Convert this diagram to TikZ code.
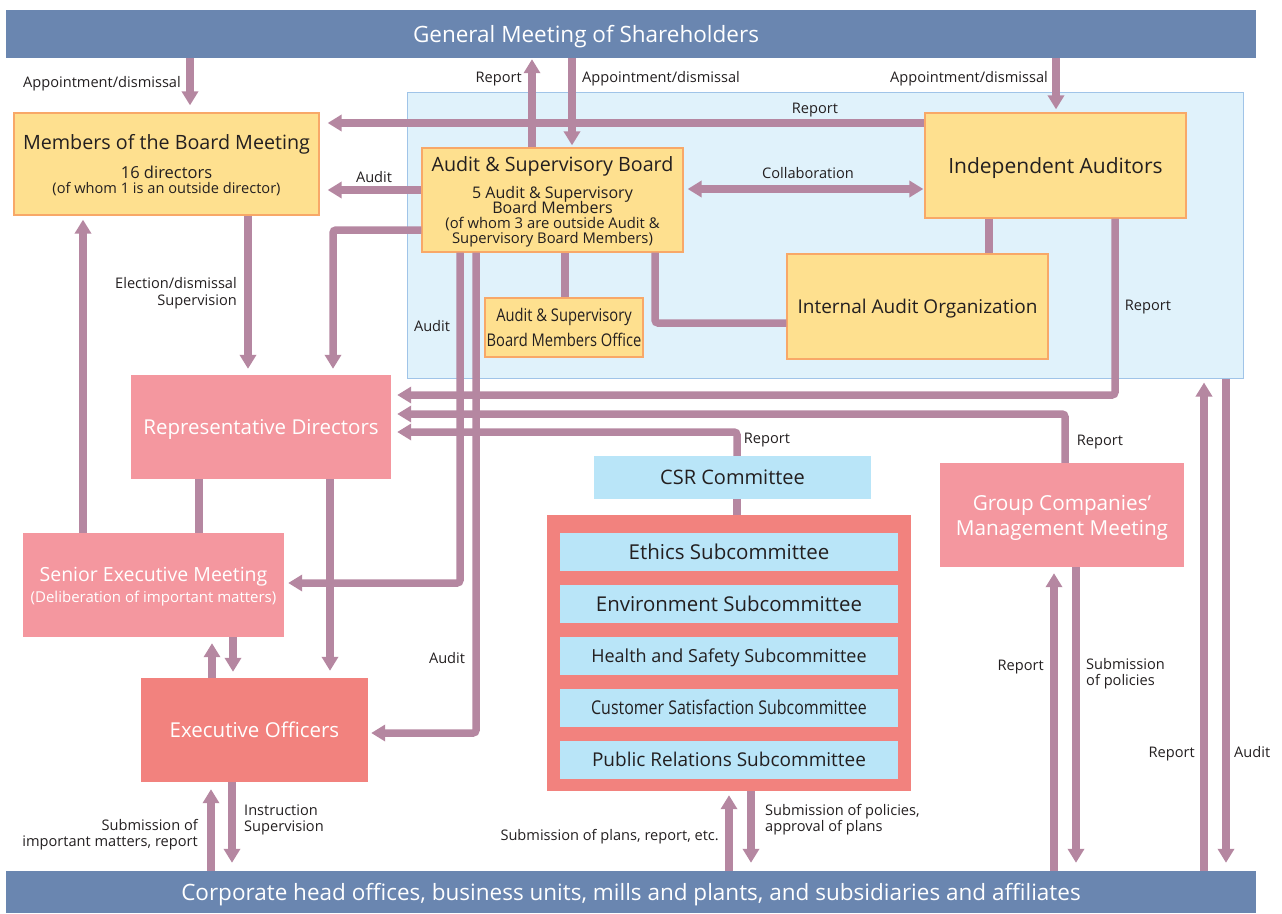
\documentclass[tikz,border=0pt]{standalone}
\usepackage{fontspec}
\setmainfont{Open Sans}
\newfontfamily\condfont[FakeStretch=0.84]{Open Sans}
\usetikzlibrary{arrows.meta,positioning}
\definecolor{barblue}{RGB}{106,134,176}
\definecolor{mauve}{RGB}{181,135,161}
\definecolor{boxyellow}{RGB}{254,224,143}
\definecolor{boxorange}{RGB}{248,168,104}
\definecolor{auditblue}{RGB}{224,242,251}
\definecolor{auditedge}{RGB}{160,196,232}
\definecolor{boxpink}{RGB}{244,151,159}
\definecolor{boxsalmon}{RGB}{242,130,126}
\definecolor{csrblue}{RGB}{185,229,248}
\definecolor{textdark}{RGB}{35,31,32}
\newcommand{\fsz}[2]{\fontsize{#1}{#2}\selectfont\lineskiplimit=-50pt\relax}

\begin{document}
\begin{tikzpicture}[x=1pt, y=-1pt,
        % Node styles
        bar/.style={fill=barblue, inner sep=0pt, minimum width=1250pt},
        bartext/.style={text=white, font=\fsz{22.5}{26}, inner sep=0pt, text depth=0pt},
        yellowbox/.style={draw=boxorange, fill=boxyellow, line width=1.3pt, inner sep=0pt, align=center, text=textdark, text depth=0pt, font=\fsz{19.5}{23}},
        pinkbox/.style={fill=boxpink, inner sep=0pt, align=center, text=white, text depth=0pt, font=\fsz{20.5}{25}},
        redbox/.style={fill=boxsalmon, inner sep=0pt, align=center, text=white, text depth=0pt, font=\fsz{20.5}{25}},
        subbox/.style={fill=csrblue, inner sep=0pt, minimum width=338pt, minimum height=38pt, text=textdark, text depth=0pt, font=\fsz{19}{22}},
        lbl/.style={inner sep=0pt, text=textdark, text depth=0pt, font=\fsz{14.6}{15.5}},
        % Connector styles
        line/.style={draw=mauve, line width=7.5pt},
        arr/.style={line, -{Triangle[width=16pt,length=14pt]}, shorten >=7pt},
        arrboth/.style={line, {Triangle[width=16pt,length=14pt]}-{Triangle[width=16pt,length=14pt]}},
        node distance=13.5pt
    ]
    \useasboundingbox (0,0) rectangle (1282,913);

    % Top and bottom bars
    \node[bar, minimum height=48pt] (gms) at (631,34) {};
    \node[bartext] at (586,34) {General Meeting of Shareholders};
    \node[bar, minimum height=42pt] (chq) at (631,892) {};
    \node[bartext] at (631,892) {Corporate head offices, business units, mills and plants, and subsidiaries and affiliates};

    % Audit area
    \node[draw=auditedge, fill=auditblue, line width=1pt, minimum width=836pt, minimum height=286pt] (audarea) at (825,235) {};

    % Yellow boxes
    \node[yellowbox, minimum width=305pt, minimum height=102pt, font=\fsz{16.5}{15}] (bm) at (166.5,164) {{\fontsize{19.7}{23}\selectfont Members of the Board Meeting}\\[14pt]
        16 directors\\
        {\fontsize{14.6}{15}\selectfont (of whom 1 is an outside director)}};
    \node[yellowbox, minimum width=261pt, minimum height=104pt, font=\fsz{16}{15}] (asb) at (552.5,200) {{\fontsize{19.7}{23}\selectfont Audit \& Supervisory Board}\\[12pt]
        5 Audit \& Supervisory\\
        Board Members\\
        {\fontsize{14.8}{15}\selectfont (of whom 3 are outside Audit \&}\\
        {\fontsize{14.8}{15}\selectfont Supervisory Board Members)}};
    \node[yellowbox, minimum width=261pt, minimum height=105pt, font=\fsz{21}{25}] (ia) at (1055.5,165.5) {Independent Auditors};
    \node[yellowbox, minimum width=261pt, minimum height=105pt, font=\fsz{19}{23}] (iao) at (917.5,306.5) {Internal Audit Organization};
    \node[yellowbox, minimum width=158pt, minimum height=59pt, font=\condfont\fsz{17.5}{25}] (asbo) at (564,327.5) {Audit \& Supervisory\\Board Members Office};

    % Pink and red boxes
    \node[pinkbox, minimum width=260pt, minimum height=104pt] (rd) at (261,427) {Representative Directors};
    \node[pinkbox, minimum width=261pt, minimum height=104pt, font=\fsz{19.5}{21}] (sem) at (153.5,585) {Senior Executive Meeting\\
        {\fontsize{15}{16}\selectfont (Deliberation of important matters)}};
    \node[redbox, minimum width=227pt, minimum height=104pt] (eo) at (254.5,730) {Executive Officers};
    \node[pinkbox, minimum width=244pt, minimum height=104pt, font=\fsz{20.7}{25}] (gcm) at (1062,515) {Group Companies’\\Management Meeting};

    % CSR committee and subcommittees
    \node[subbox, minimum width=277pt, minimum height=43pt, font=\fsz{20}{23}] (csr) at (732.5,477.5) {CSR Committee};
    \node[fill=boxsalmon, minimum width=364pt, minimum height=276pt] (subs) at (729,653) {};
    \node[subbox, font=\fsz{20.5}{23}] (ethics) at (729,552) {Ethics Subcommittee};
    \node[subbox, below=of ethics, font=\fsz{20.4}{23}] (env) {Environment Subcommittee};
    \node[subbox, below=of env, font=\fsz{18}{22}] (hs) {Health and Safety Subcommittee};
    \node[subbox, below=of hs, font=\condfont\fsz{19}{22}] (cs) {Customer Satisfaction Subcommittee};
    \node[subbox, below=of cs] (pr) {Public Relations Subcommittee};

    % Connectors from the general meeting
    \draw[arr] (190,0 |- gms.south) -- (190,0 |- bm.north);
    \draw[arr, shorten >=1pt] (532,0 |- asb.north) -- (532,0 |- gms.south);
    \draw[arr, shorten >=2pt] (572,0 |- gms.south) -- (572,0 |- asb.north);
    \draw[arr, shorten >=3pt] (1056,0 |- gms.south) -- (1056,0 |- ia.north);

    % Audit side
    \draw[arr, shorten >=8pt] (ia.west |- 0,123) -- (bm.east |- 0,123);
    \draw[arr, shorten >=8pt] (asb.west |- 0,190) -- (bm.east |- 0,190);
    \draw[arrboth, shorten <=4pt, shorten >=1pt] (asb.east |- 0,189) -- (ia.west |- 0,189);
    \draw[arr, shorten >=6pt, rounded corners=3pt] (asb.west |- 0,230) -| (333,0 |- rd.north);
    \draw[line] (565,0 |- asb.south) -- (565,0 |- asbo.north);
    \draw[line, rounded corners=3pt] (655,0 |- asb.south) |- (iao.west |- 0,323);
    \draw[line] (989,0 |- ia.south) -- (989,0 |- iao.north);
    \draw[arr, shorten >=4pt, rounded corners=3pt] (460,0 |- asb.south) |- (sem.east |- 0,583);
    \draw[arr, shorten >=3pt, rounded corners=3pt] (476,0 |- asb.south) |- (eo.east |- 0,733);

    % Reports to the representative directors
    \draw[arr, shorten >=6pt, rounded corners=3pt] (1115,0 |- ia.south) |- (rd.east |- 0,395);
    \draw[arr, shorten >=6pt, rounded corners=3pt] (1065,0 |- gcm.north) |- (rd.east |- 0,414);
    \draw[arr, shorten >=6pt, rounded corners=3pt] (737,0 |- csr.north) |- (rd.east |- 0,432);
    \draw[line] (737,0 |- csr.south) -- (737,0 |- subs.north);

    % Management side
    \draw[arr, shorten >=6pt] (248,0 |- bm.south) -- (248,0 |- rd.north);
    \draw[arr, shorten >=4pt] (83,0 |- sem.north) -- (83,0 |- bm.south);
    \draw[line] (199,0 |- rd.south) -- (199,0 |- sem.north);
    \draw[arr] (330,0 |- rd.south) -- (330,0 |- eo.north);
    \draw[arr, shorten >=6pt] (212,0 |- eo.north) -- (212,0 |- sem.south);
    \draw[arr, shorten >=6pt] (233,0 |- sem.south) -- (233,0 |- eo.north);

    % Connectors to the corporate bar
    \draw[arr] (211,0 |- chq.north) -- (211,0 |- eo.south);
    \draw[arr, shorten >=8pt] (232,0 |- eo.south) -- (232,0 |- chq.north);
    \draw[arr, shorten >=4pt] (729,0 |- chq.north) -- (729,0 |- subs.south);
    \draw[arr, shorten >=8pt] (751,0 |- subs.south) -- (751,0 |- chq.north);
    \draw[arr, shorten >=6pt] (1054,0 |- chq.north) -- (1054,0 |- gcm.south);
    \draw[arr, shorten >=8pt] (1076,0 |- gcm.south) -- (1076,0 |- chq.north);
    \draw[arr, shorten >=4pt] (1204,0 |- chq.north) -- (1204,0 |- audarea.south);
    \draw[arr, shorten >=8pt] (1226,0 |- audarea.south) -- (1226,0 |- chq.north);

    % Connector labels
    \node[lbl, anchor=east] at (181,82) {Appointment/dismissal};
    \node[lbl, anchor=east] at (522,77) {Report};
    \node[lbl, anchor=west] at (582,77) {Appointment/dismissal};
    \node[lbl, anchor=east] at (1048,77) {Appointment/dismissal};
    \node[lbl] at (815,108) {Report};
    \node[lbl] at (374,177) {Audit};
    \node[lbl] at (808,173) {Collaboration};
    \node[lbl, anchor=east, align=right, font=\fsz{14.6}{17}] at (237,291) {Election/dismissal\\Supervision};
    \node[lbl] at (432,326) {Audit};
    \node[lbl] at (447,658) {Audit};
    \node[lbl] at (1148,305) {Report};
    \node[lbl] at (1100,440) {Report};
    \node[lbl] at (767,438) {Report};
    \node[lbl, anchor=east, align=right] at (198,833) {Submission of\\important matters, report};
    \node[lbl, anchor=west, align=left] at (244,818) {Instruction\\Supervision};
    \node[lbl, anchor=east] at (719,835) {Submission of plans, report, etc.};
    \node[lbl, anchor=west, align=left] at (765,818) {Submission of policies,\\approval of plans};
    \node[lbl, anchor=east] at (1044,665) {Report};
    \node[lbl, anchor=west, align=left] at (1086,672) {Submission\\of policies};
    \node[lbl, anchor=east] at (1195,752) {Report};
    \node[lbl, anchor=west] at (1234,752) {Audit};

\end{tikzpicture}
\end{document}
